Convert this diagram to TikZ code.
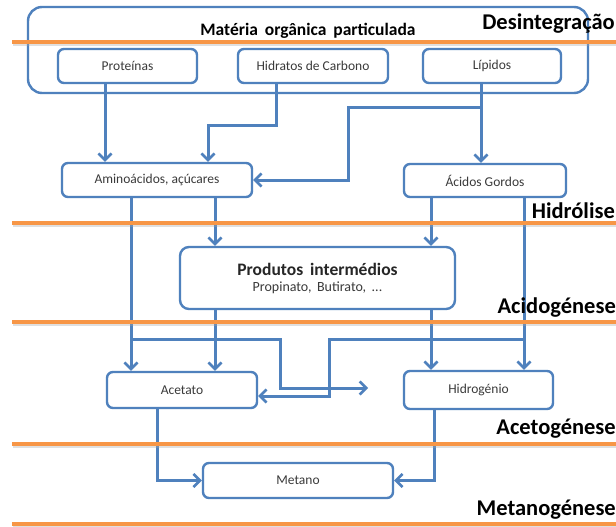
\documentclass[tikz,border=0pt]{standalone}
\usepackage{fontspec}
\setmainfont{Carlito}
\usetikzlibrary{arrows.meta}
\definecolor{flowblue}{HTML}{4F81BD}
\definecolor{stageorange}{HTML}{F79646}
\definecolor{labelgray}{HTML}{3A3A3A}
\tikzset{
  box/.style={draw=flowblue, line width=2.4pt, rounded corners=6pt, fill=white,
    inner sep=0pt, font=\fontsize{13.5}{15}\selectfont, text=labelgray},
  flow/.style={draw=flowblue, line width=3pt,
    -{Straight Barb[length=6.5pt,width=13pt,line width=2.6pt]}},
  stage/.style={draw=stageorange, line width=3.6pt},
  stageshadow/.style={draw=black!35, line width=2.5pt, opacity=0.35},
  stagelabel/.style={font=\fontsize{22.5}{24}\selectfont\bfseries, text=black, inner sep=0pt},
}
\begin{document}
\begin{tikzpicture}[x=1pt,y=-1pt]
\useasboundingbox[clip] (0,0) rectangle (616,527);
\fill[white] (0,0) rectangle (616,527);

% outer container and raw materials
\node[box, rounded corners=14pt, minimum width=560pt, minimum height=86pt] (mat) at (308,50) {};
\node[font=\fontsize{17.5}{19}\selectfont\bfseries, inner sep=0pt, anchor=base] (mattit) at (308,36) {Matéria\, orgânica\, particulada};
\node[box, minimum width=139pt, minimum height=34pt] (prot) at (127.5,66) {Proteínas};
\node[box, minimum width=150pt, minimum height=34pt] (hid) at (313,66) {Hidratos de Carbono};
\node[box, minimum width=138pt, minimum height=34pt] (lip) at (492,66) {Lípidos};

% hydrolysis products
\node[box, minimum width=190pt, minimum height=34pt] (amino) at (157,180) {Aminoácidos, açúcares};
\node[box, minimum width=162pt, minimum height=33pt] (acid) at (485,180.5) {Ácidos Gordos};

% intermediate products
\node[box, rounded corners=9pt, minimum width=275pt, minimum height=62pt, align=center] (prod) at (317.5,278)
  {{\fontsize{17.5}{19}\selectfont\bfseries\color{black!85} Produtos\, intermédios}\\[1pt]{\fontsize{14}{15}\selectfont Propinato,\, Butirato,\, ...}};

% acetogenesis and methanogenesis products
\node[box, minimum width=150pt, minimum height=36pt] (acet) at (182,390) {Acetato};
\node[box, minimum width=149pt, minimum height=38pt] (hidro) at (478.5,390) {Hidrogénio};
\node[box, minimum width=190pt, minimum height=35pt] (met) at (298,480.5) {Metano};

% connector columns and bend levels
\coordinate (cA) at (105,0);
\coordinate (cB) at (208,0);
\coordinate (cC) at (276,0);
\coordinate (cD) at (348,0);
\coordinate (cE) at (481,0);
\coordinate (cF) at (131,0);
\coordinate (cG) at (215,0);
\coordinate (cH) at (431,0);
\coordinate (cI) at (524,0);
\coordinate (cJ) at (280,0);
\coordinate (cK) at (329,0);
\coordinate (cL) at (157,0);
\coordinate (cM) at (434,0);
\coordinate (y125) at (0,125);
\coordinate (y107) at (0,107);
\coordinate (y339) at (0,339);
\coordinate (y388) at (0,388);
\coordinate (y396) at (0,396);
\coordinate (tip) at (368,388);

% disintegration -> hydrolysis
\draw[flow] (prot.south -| cA) -- (amino.north -| cA);
\draw[flow] (hid.south -| cC) -- (cC |- y125) -| (amino.north -| cB);
\draw[flow] (lip.south -| cE) -- (acid.north -| cE);
\draw[flow] (cE |- y107) -| (cD |- amino.east) -- (amino.east);

% hydrolysis -> acidogenesis
\draw[flow] (amino.south -| cG) -- (prod.north -| cG);
\draw[flow] (acid.south -| cH) -- (prod.north -| cH);
\draw[flow] (amino.south -| cF) -- (acet.north -| cF);
\draw[flow] (acid.south -| cI) -- (hidro.north -| cI);

% acidogenesis -> acetogenesis
\draw[flow] (prod.south -| cG) -- (acet.north -| cG);
\draw[flow] (prod.south -| cH) -- (hidro.north -| cH);
\draw[flow] (cF |- y339) -| (cJ |- y388) -- (tip);
\draw[flow] (cI |- y339) -| (cK |- y396) -- (acet.east |- y396);

% acetogenesis -> methanogenesis
\draw[flow] (acet.south -| cL) |- (met.west);
\draw[flow] (hidro.south -| cM) |- (met.east);

% stage separators
\foreach \yy in {42,223,322,444,524} {
  \draw[stageshadow] (13,\yy+2.5) -- (616,\yy+2.5);
  \draw[stage] (12,\yy) -- (616,\yy);
}

% stage names
\node[stagelabel, anchor=base east] (sDes) at (615,30) {Desintegração};
\node[stagelabel, anchor=base east] (sHid) at (615,218) {Hidrólise};
\node[stagelabel, anchor=base east] (sAci) at (616,313) {Acidogénese};
\node[stagelabel, anchor=base east] (sAce) at (616,434) {Acetogénese};
\node[stagelabel, anchor=base east] (sMet) at (616,515) {Metanogénese};
\end{tikzpicture}
\end{document}
